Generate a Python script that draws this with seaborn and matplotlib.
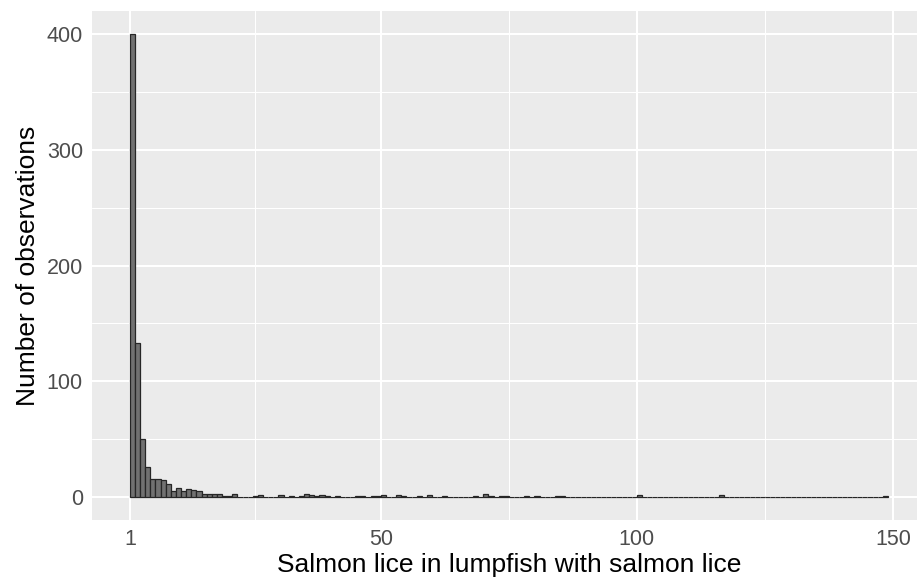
import matplotlib
matplotlib.use("Agg")
import matplotlib.pyplot as plt
from matplotlib.ticker import FixedLocator
import seaborn as sns

# number of salmon lice on a lumpfish (bin start) and how many fish had that count
lice_per_fish = [1, 2, 3, 4, 5, 6, 7, 8, 9, 10, 11, 12, 13, 14, 15, 16, 17, 18,
                 19, 20, 21, 25, 26, 30, 32, 34, 35, 36, 37, 38, 39, 41, 45, 46,
                 48, 49, 50, 53, 54, 57, 59, 62, 68, 70, 71, 73, 74, 78, 80, 84,
                 85, 100, 116, 148]
n_fish = [400, 133, 50, 26, 16, 16, 15, 11, 5, 8, 5, 7, 6, 5, 3, 3, 3, 3,
          1, 1, 3, 1, 2, 2, 1, 1, 3, 2, 1, 2, 1, 1, 1, 1,
          1, 1, 2, 2, 1, 1, 2, 1, 1, 3, 1, 1, 1, 1, 1, 1,
          1, 2, 2, 1]

x_ticks = [1, 50, 100, 150]
x_minor = [25.5, 75, 125]
y_ticks = [0, 100, 200, 300, 400]
y_minor = [50, 150, 250, 350]

sns.set_theme(style="darkgrid", rc={
    "axes.facecolor": "#EBEBEB",
    "grid.color": "white",
    "axes.edgecolor": "none",
})
plt.rcParams["font.family"] = ["Liberation Sans", "DejaVu Sans"]

fig = plt.figure(figsize=(9.17, 5.81), dpi=100)
ax = fig.add_axes([0.1003, 0.1046, 0.9093, 0.8768])

sns.histplot(
    x=lice_per_fish,
    weights=n_fish,
    binwidth=1,
    binrange=(1, 149),
    color="#717171",
    edgecolor="#262626",
    linewidth=0.9,
    alpha=1,
    ax=ax,
)

ax.set_xlim(-6.4, 156.4)
ax.set_ylim(-20, 420)
ax.set_xticks(x_ticks)
ax.set_yticks(y_ticks)
ax.xaxis.set_minor_locator(FixedLocator(x_minor))
ax.yaxis.set_minor_locator(FixedLocator(y_minor))
ax.grid(which="major", color="white", linewidth=1.5)
ax.grid(which="minor", color="white", linewidth=0.75)
ax.set_axisbelow(True)
ax.tick_params(which="major", length=4, width=1, color="#333333",
               labelsize=15.5, labelcolor="#4D4D4D", pad=2.5)
ax.tick_params(which="minor", length=0)
for s in ax.spines.values():
    s.set_visible(False)

ax.set_xlabel("Salmon lice in lumpfish with salmon lice", fontsize=19, color="black", labelpad=2)
ax.set_ylabel("Number of observations", fontsize=19, color="black", labelpad=5)

fig.savefig("out.png", dpi=100)
plt.close(fig)
